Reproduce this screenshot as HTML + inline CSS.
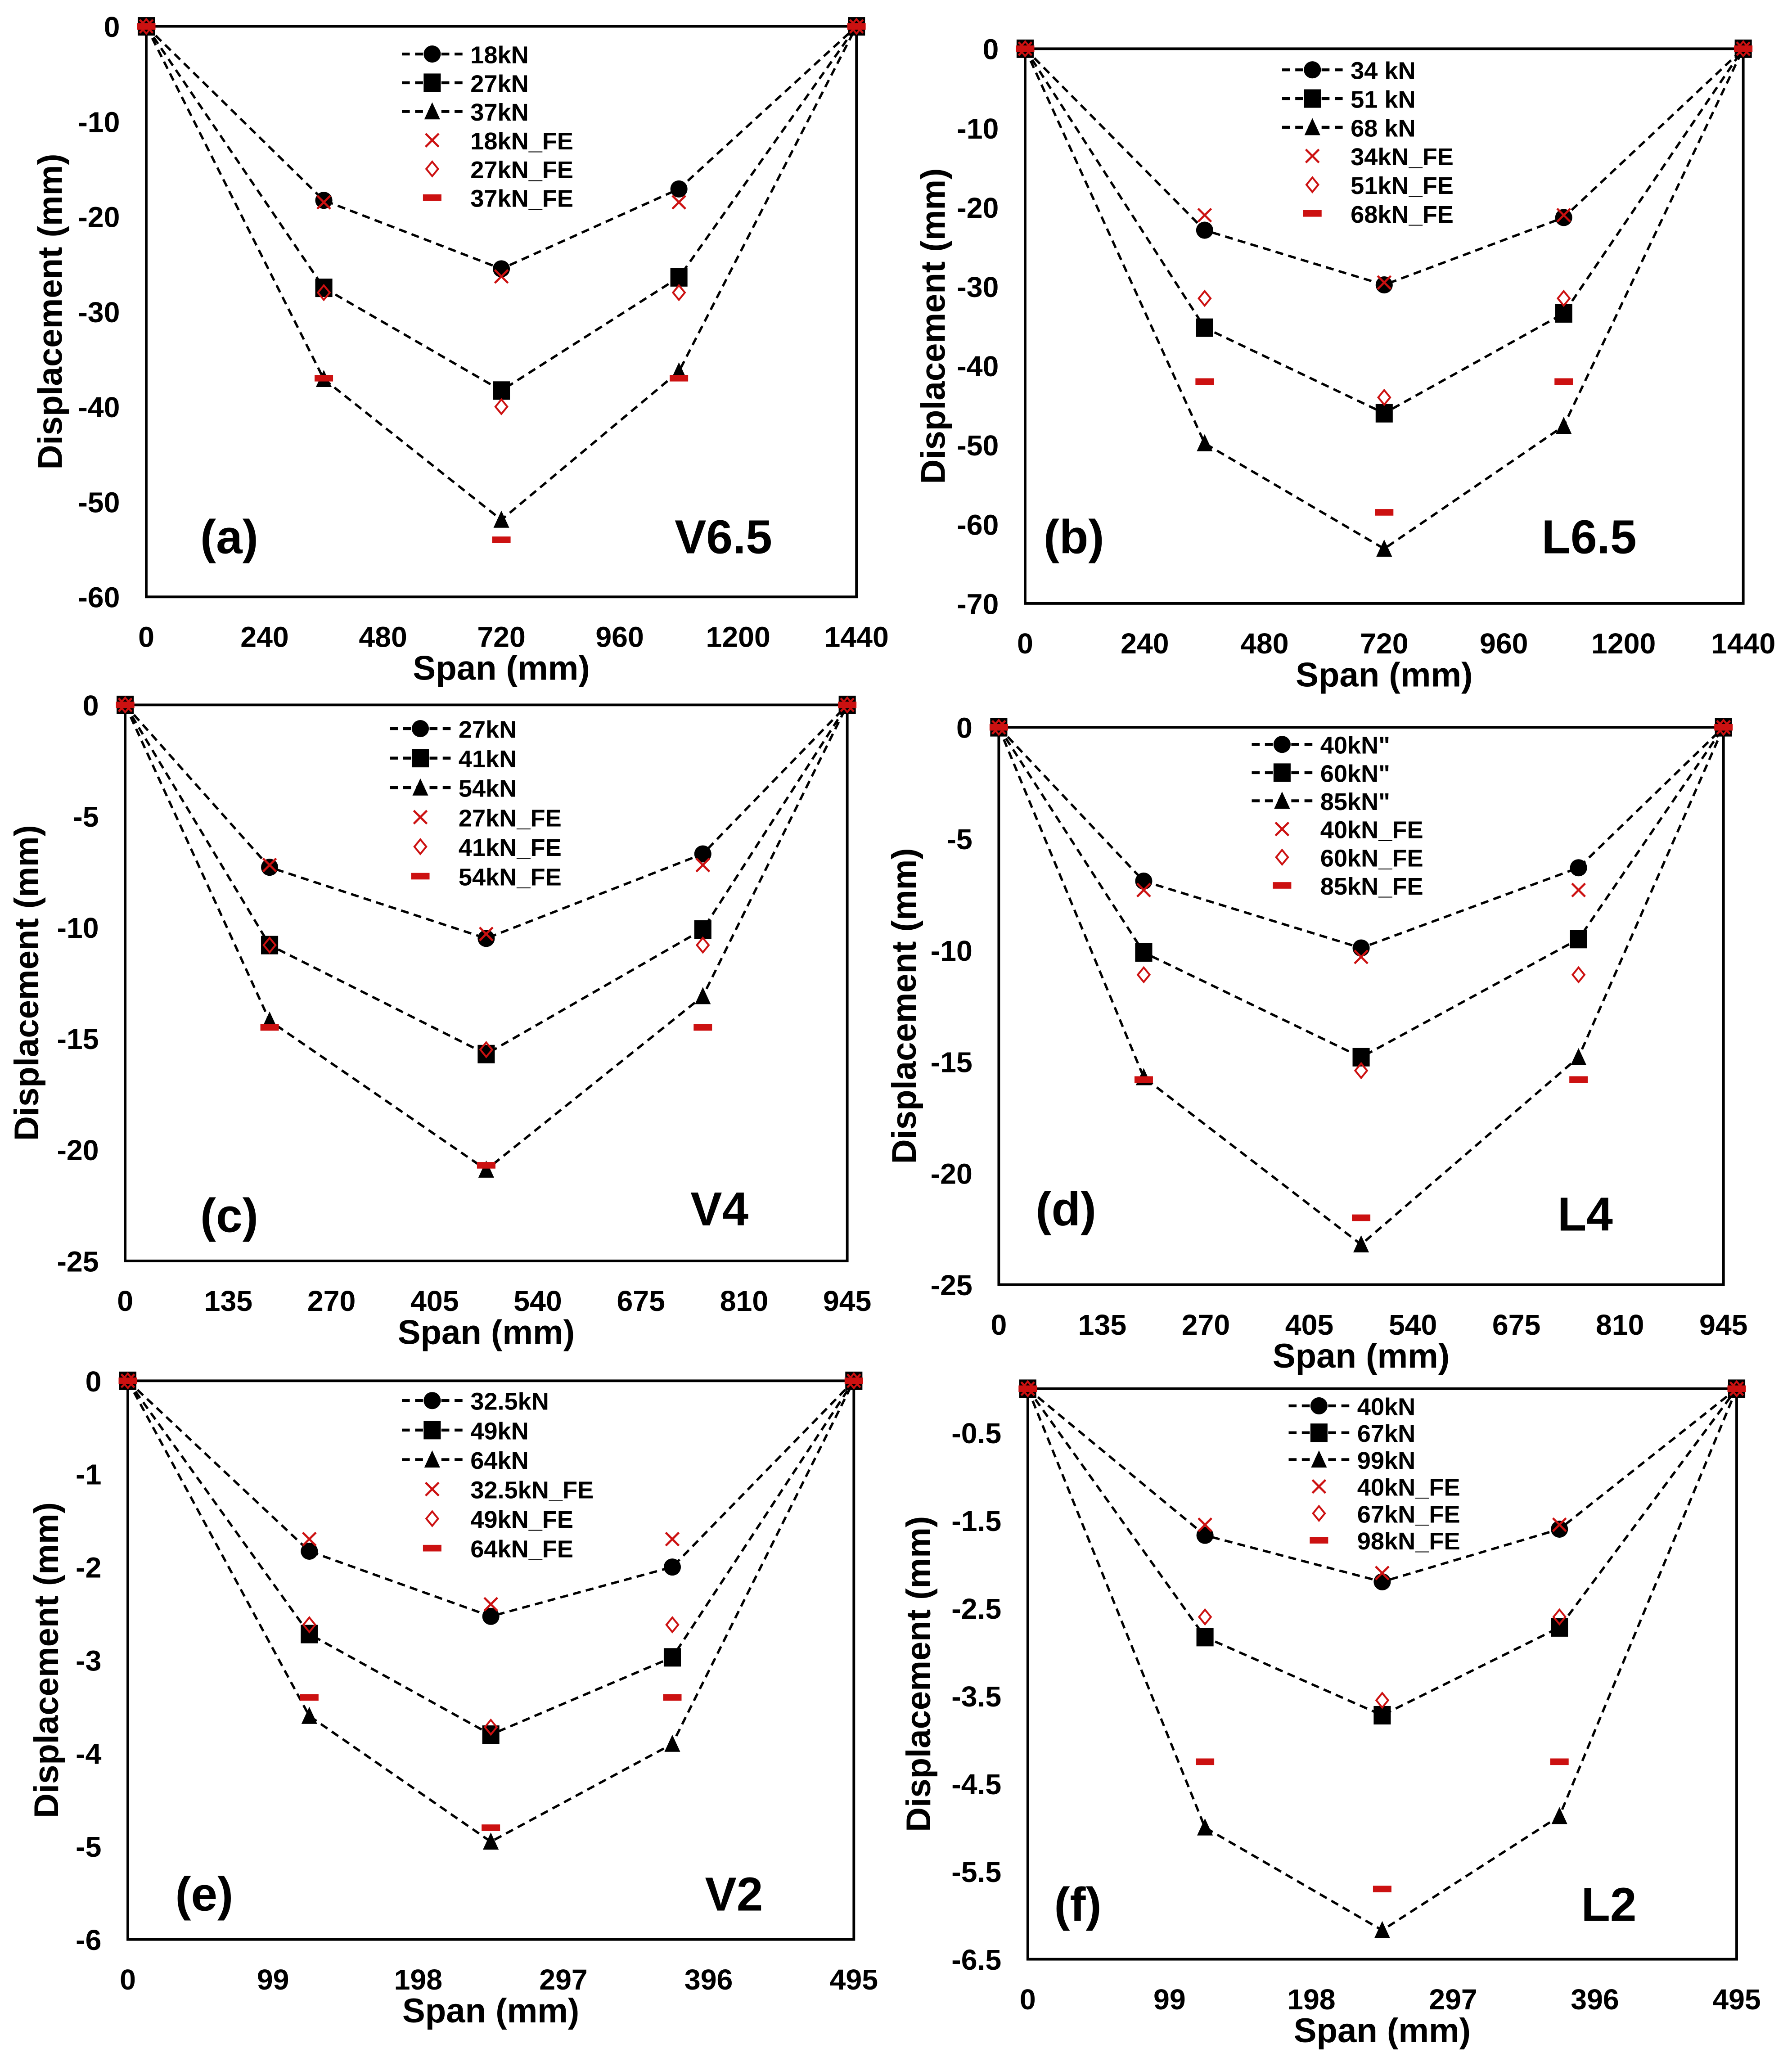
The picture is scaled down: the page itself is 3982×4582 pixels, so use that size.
<!DOCTYPE html>
<html><head><meta charset="utf-8"><style>
html,body{margin:0;padding:0;background:#fff;}
svg{display:block;}
text{font-family:"Liberation Sans",Arial,sans-serif;font-weight:bold;fill:#000;}
</style></head><body>
<svg id="fig" xmlns="http://www.w3.org/2000/svg" width="3982" height="4582" viewBox="0 0 1360 1565" preserveAspectRatio="none"></svg>
<script>
const NS="http://www.w3.org/2000/svg";
const svg=document.getElementById('fig');
// ---- data ----
const panelIds=['a','b','c','d','e','f'];
const panelNames=['V6.5','L6.5','V4','L4','V2','L2'];
const spans=[1440,1440,945,945,495,495];
const xPosA=[0,360,720,1080,1440];
const xPosC=[0,189,472.5,756,945];
const xPosE=[0,123.75,247.5,371.25,495];
const xTicksA=[0,240,480,720,960,1200,1440];
const xTicksC=[0,135,270,405,540,675,810,945];
const xTicksE=[0,99,198,297,396,495];
const yTicksA=[0,-10,-20,-30,-40,-50,-60];
const yTicksB=[0,-10,-20,-30,-40,-50,-60,-70];
const yTicksC=[0,-5,-10,-15,-20,-25];
const yTicksE=[0,-1,-2,-3,-4,-5,-6];
const yTicksF=[-0.5,-1.5,-2.5,-3.5,-4.5,-5.5,-6.5];
const yMins=[-60,-70,-25,-25,-6,-6.5];
const labelsA=['18kN','27kN','37kN','18kN_FE','27kN_FE','37kN_FE'];
const labelsB=['34 kN','51 kN','68 kN','34kN_FE','51kN_FE','68kN_FE'];
const labelsC=['27kN','41kN','54kN','27kN_FE','41kN_FE','54kN_FE'];
const labelsD=['40kN"','60kN"','85kN"','40kN_FE','60kN_FE','85kN_FE'];
const labelsE=['32.5kN','49kN','64kN','32.5kN_FE','49kN_FE','64kN_FE'];
const labelsF=['40kN','67kN','99kN','40kN_FE','67kN_FE','98kN_FE'];
// interior point values; ends are 0
const expA=[[-18.3,-25.5,-17.1],[-27.5,-38.3,-26.4],[-37.1,-51.9,-36.3]];
const feA=[[-18.5,-26.3,-18.5],[-28,-40,-28],[-37,-54,-37]];
const expB=[[-22.9,-29.8,-21.3],[-35.2,-46,-33.4],[-49.8,-63.1,-47.6]];
const feB=[[-21,-29.5,-21],[-31.5,-44,-31.5],[-42,-58.5,-42]];
const expC=[[-7.3,-10.5,-6.7],[-10.8,-15.7,-10.1],[-14.2,-20.9,-13.1]];
const feC=[[-7.2,-10.3,-7.2],[-10.8,-15.5,-10.8],[-14.5,-20.7,-14.5]];
const expD=[[-6.9,-9.9,-6.3],[-10.1,-14.8,-9.5],[-15.7,-23.2,-14.8]];
const feD=[[-7.3,-10.3,-7.3],[-11.1,-15.4,-11.1],[-15.8,-22,-15.8]];
const expE=[[-1.83,-2.53,-2.0],[-2.72,-3.8,-2.97],[-3.6,-4.95,-3.9]];
const feE=[[-1.7,-2.4,-1.7],[-2.62,-3.72,-2.62],[-3.4,-4.8,-3.4]];
const expF=[[-1.67,-2.2,-1.6],[-2.83,-3.72,-2.72],[-5.0,-6.17,-4.87]];
const feF=[[-1.55,-2.1,-1.55],[-2.6,-3.55,-2.6],[-4.25,-5.7,-4.25]];

const layout=[
 {L:111,R:650,T:20,B:453,xp:xPosA,xt:xTicksA,yt:yTicksA,lab:labelsA,exp:expA,fe:feA,lg:[305,41,21.8],tt:[152,420],nm:[512,420],yx:38},
 {L:778,R:1323,T:37,B:458,xp:xPosA,xt:xTicksA,yt:yTicksB,lab:labelsB,exp:expB,fe:feB,lg:[973,53,21.8],tt:[792,420],nm:[1170,420],yx:708},
 {L:95,R:643,T:535,B:957,xp:xPosC,xt:xTicksC,yt:yTicksC,lab:labelsC,exp:expC,fe:feC,lg:[296,553,22.4],tt:[152,935],nm:[524,930],yx:20},
 {L:758,R:1308,T:552,B:975,xp:xPosC,xt:xTicksC,yt:yTicksC,lab:labelsD,exp:expD,fe:feD,lg:[950,565,21.4],tt:[786,930],nm:[1182,934],yx:686},
 {L:97,R:648,T:1048,B:1472,xp:xPosE,xt:xTicksE,yt:yTicksE,lab:labelsE,exp:expE,fe:feE,lg:[305,1063,22.4],tt:[133,1450],nm:[535,1450],yx:35},
 {L:780,R:1318,T:1054,B:1487,xp:xPosE,xt:xTicksE,yt:yTicksF,lab:labelsF,exp:expF,fe:feF,lg:[978,1067,20.4],tt:[800,1458],nm:[1200,1458],yx:697}
];
const RED='#cc1111';
function el(tag,attrs,parent){const e=document.createElementNS(NS,tag);for(const k in attrs)e.setAttribute(k,attrs[k]);(parent||svg).appendChild(e);return e;}
function txt(s,x,y,size,anchor,parent,extra){const t=el('text',Object.assign({x:x,y:y,'font-size':size,'text-anchor':anchor||'start'},extra||{}),parent);t.textContent=s;return t;}
function marker(kind,x,y,g){
 if(kind===0)return el('circle',{cx:x,cy:y,r:6.5,fill:'#000'},g);
 if(kind===1)return el('rect',{x:x-6.5,y:y-7,width:13,height:14,fill:'#000'},g);
 if(kind===2)return el('path',{d:`M${x},${y-7} L${x+6},${y+6} L${x-6},${y+6} Z`,fill:'#000'},g);
 if(kind===3)return el('path',{d:`M${x-5},${y-5} L${x+5},${y+5} M${x+5},${y-5} L${x-5},${y+5}`,stroke:RED,'stroke-width':1.6,fill:'none'},g);
 if(kind===4)return el('path',{d:`M${x},${y-5.5} L${x+4.5},${y} L${x},${y+5.5} L${x-4.5},${y} Z`,stroke:RED,'stroke-width':1.4,fill:'none'},g);
 return el('rect',{x:x-7,y:y-2.5,width:14,height:5,fill:RED},g);
}
layout.forEach((p,i)=>{
 const g=el('g',{});
 
 
 const span=spans[i],ymin=yMins[i];
 const sx=v=>p.L+v/span*(p.R-p.L);
 const sy=v=>p.T+(v/ymin)*(p.B-p.T);
 const box=el('rect',{x:p.L,y:p.T,width:p.R-p.L,height:p.B-p.T,fill:'none',stroke:'#000','stroke-width':2},g);
 
 
 p.yt.forEach(v=>{const t=txt(String(v),p.L-20,sy(v)+8,22,'end',g);});
 p.xt.forEach(v=>{const t=txt(String(v),sx(v),p.B+38,22,'middle',g);});
 const yt=txt('Displacement (mm)',p.yx+9,(p.T+p.B)/2,26,'middle',g,{transform:`rotate(-90 ${p.yx+9} ${(p.T+p.B)/2})`});
 
 const xt=txt('Span (mm)',(p.L+p.R)/2,p.B+63,26,'middle',g);
 
 const xs=p.xp;
 p.exp.forEach((s,k)=>{
  const vals=[0,...s,0];
  const pts=xs.map((x,j)=>sx(x)+','+sy(vals[j])).join(' ');
  const ln=el('polyline',{points:pts,fill:'none',stroke:'#000','stroke-width':1.8,'stroke-dasharray':'6,4'},g);
  
  xs.forEach((x,j)=>{const m=marker(k,sx(x),sy(vals[j]),g);});
 });
 p.fe.forEach((s,k)=>{
  const vals=[0,...s,0];
  xs.forEach((x,j)=>{const m=marker(3+k,sx(x),sy(vals[j]),g);});
 });
 const [lx,ly,ld]=p.lg;
 p.lab.forEach((s,k)=>{
  const yy=ly+k*ld;
  const lg=el('g',{},g);
  
  if(k<3)el('line',{x1:lx,y1:yy,x2:lx+46,y2:yy,stroke:'#000','stroke-width':2.2,'stroke-dasharray':'6,4'},lg);
  marker(k,lx+23,yy,lg);
  txt(s,lx+52,yy+7,18.5,'start',lg);
 });
 const tt=txt('('+panelIds[i]+')',p.tt[0],p.tt[1],36,'start',g);
 
 const nm=txt(panelNames[i],p.nm[0],p.nm[1],36,'start',g);
 
});
</script>
</body></html>
